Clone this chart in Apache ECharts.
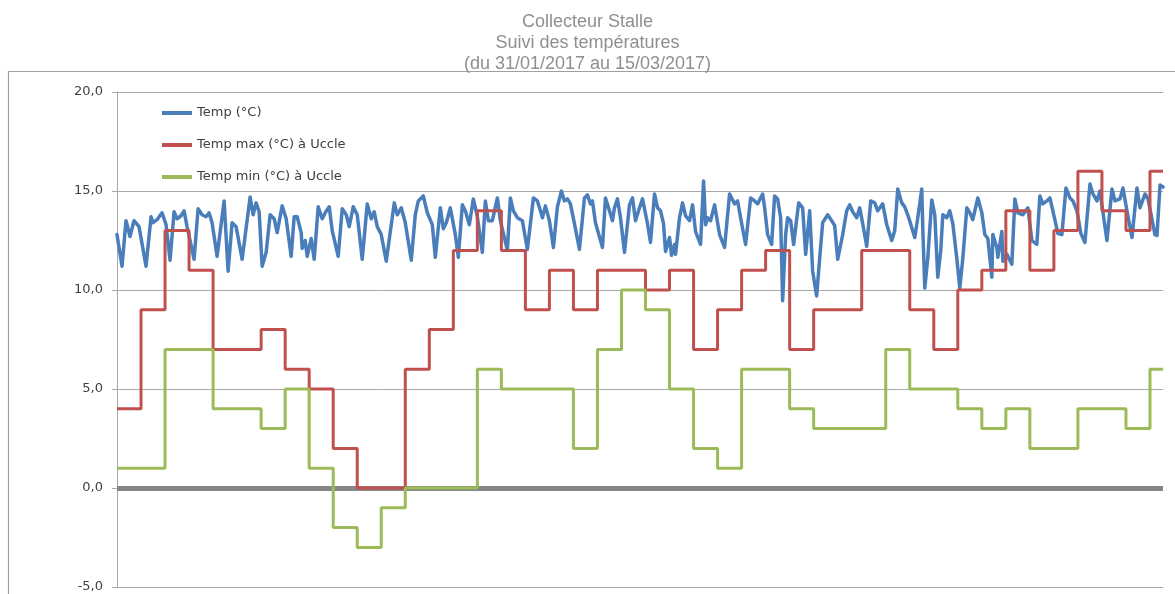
<!DOCTYPE html>
<html><head><meta charset="utf-8">
<script src="https://cdn.jsdelivr.net/npm/echarts@6/dist/echarts.min.js"></script>
<style>html,body{margin:0;padding:0;background:#fff}#c{width:1175px;height:594px}</style>
</head><body><div id="c"></div>
<script>
// ---- data ----
const titleLines = ['Collecteur Stalle', 'Suivi des températures', '(du 31/01/2017 au 15/03/2017)'];
const seriesNames = ['Temp (°C)', 'Temp max (°C) à Uccle', 'Temp min (°C) à Uccle'];
const days = ['31/01','01/02','02/02','03/02','04/02','05/02','06/02','07/02','08/02','09/02','10/02','11/02','12/02','13/02','14/02','15/02','16/02','17/02','18/02','19/02','20/02','21/02','22/02','23/02','24/02','25/02','26/02','27/02','28/02','01/03','02/03','03/03','04/03','05/03','06/03','07/03','08/03','09/03','10/03','11/03','12/03','13/03','14/03','15/03'];
const lastHour = 1045; // hours after 31/01 00:00 of the last reading
const dayMax = [4,9,13,11,7,7,8,6,5,2,0,0,6,8,12,14,12,9,11,9,11,11,10,11,7,9,11,12,7,9,9,12,12,9,7,10,11,14,11,13,16,14,13,16];
const dayMin = [1,1,7,7,4,4,3,5,1,-2,-3,-1,0,0,0,6,5,5,5,2,7,10,9,5,2,1,6,6,4,3,3,3,7,5,5,4,3,4,2,2,4,4,3,6];
const tempHours = [0,5,9,13,17,22,29,34,36,40,45,49,53,57,60,64,67,70,77,81,85,89,92,95,100,107,111,115,119,125,133,136,139,142,145,149,153,157,160,165,169,174,177,180,184,185,188,190,194,197,201,205,208,212,215,221,225,229,232,236,240,245,250,254,257,260,264,269,277,280,284,288,294,298,301,306,310,315,318,323,326,329,333,338,341,345,348,352,356,360,365,368,371,375,380,383,390,393,396,400,405,410,416,420,423,425,428,432,436,440,444,447,450,453,457,462,467,470,473,475,478,485,488,492,495,497,500,503,507,512,515,518,522,525,530,533,537,540,543,546,548,552,554,557,558,562,565,568,572,575,578,583,586,588,590,593,597,602,607,612,617,620,623,628,633,637,640,645,647,650,654,657,660,663,665,668,670,673,676,681,685,688,692,695,699,702,705,710,714,717,720,725,729,732,735,739,742,745,749,753,757,760,765,769,774,777,780,784,787,791,797,800,804,805,807,810,814,817,820,823,825,829,832,835,839,842,845,849,852,855,860,864,867,870,874,875,879,880,884,885,889,894,897,900,905,910,914,919,922,925,929,932,935,940,944,948,952,955,959,963,967,972,975,979,982,989,994,997,1002,1005,1009,1014,1019,1022,1027,1030,1037,1039,1042,1045];
const tempValues = [12.8,11.2,13.5,12.7,13.5,13.2,11.2,13.7,13.4,13.55,13.9,13.3,11.5,13.95,13.6,13.75,14.0,13.2,11.55,14.1,13.8,13.7,13.9,13.4,11.7,14.5,10.95,13.4,13.2,11.55,14.7,13.8,14.4,13.95,11.2,11.9,13.8,13.6,12.9,14.25,13.6,11.7,13.7,13.7,12.9,12.1,12.5,11.7,12.6,11.55,14.2,13.6,13.9,14.2,13.0,11.7,14.1,13.8,13.2,14.2,13.8,11.55,14.35,13.6,13.95,13.2,12.8,11.45,14.4,13.8,14.15,13.4,11.5,13.8,14.5,14.75,13.9,13.3,11.65,14.15,13.1,13.4,14.15,12.8,11.65,14.3,14.0,13.3,14.6,13.7,11.9,14.5,13.5,13.5,14.65,13.5,12.0,14.65,14.0,13.65,13.5,12.05,14.65,14.5,14.0,13.65,14.25,13.5,12.15,14.2,15.0,14.5,14.6,14.35,13.35,12.05,14.65,14.8,14.35,14.5,13.4,12.15,14.65,14.0,13.5,14.15,14.6,13.65,11.9,14.3,14.65,13.5,14.15,14.6,13.35,12.4,14.85,14.15,14.0,13.35,11.95,12.65,11.75,12.3,11.8,13.65,14.4,13.75,13.5,14.3,12.95,12.3,15.5,13.3,13.65,13.5,14.3,12.8,12.15,14.85,14.35,14.5,13.65,12.3,14.65,14.5,14.35,14.85,14.15,12.8,12.3,14.75,14.6,13.65,9.46,12.8,13.65,13.5,12.3,14.4,14.15,11.8,14.0,10.95,9.7,11.6,13.4,13.8,13.5,13.25,11.55,12.8,14.0,14.3,13.95,13.65,14.15,13.35,12.2,14.5,14.4,14.0,14.35,13.3,12.5,13.0,15.1,14.4,14.2,13.65,12.65,13.65,15.1,13.15,10.1,11.6,14.55,13.8,10.65,12.0,13.8,13.65,14.0,13.35,11.6,10.1,11.6,14.15,13.9,13.55,14.65,13.9,12.8,12.6,10.65,12.8,12.15,11.65,12.95,11.45,11.8,11.3,14.6,13.9,13.8,14.15,12.5,12.3,14.75,14.35,14.5,14.65,14.0,12.85,12.8,15.15,14.65,14.5,14.0,12.85,12.4,15.35,14.85,14.5,15.0,12.5,15.1,14.5,14.6,15.15,14.0,12.65,15.15,14.15,14.85,14.6,12.8,12.75,15.3,15.2];
const yTicks = [-5, 0, 5, 10, 15, 20];

// ---- build ----
function stepData(vals) {
  const d = days.map((_, i) => [i * 24, vals[i]]);
  d.push([lastHour, vals[vals.length - 1]]);
  return d;
}
const tempData = tempHours.map((h, i) => [h, tempValues[i]]);

const chart = echarts.init(document.getElementById('c'));
const gridCol = '#a9a9a9';
chart.setOption({
  animation: false,
  backgroundColor: '#fff',
  title: {
    text: titleLines.join('\n'),
    left: 'center', top: 7,
    textStyle: { fontFamily: 'Liberation Sans, Arial, sans-serif', fontSize: 18, fontWeight: 'normal', color: '#8f8f8f', lineHeight: 21 }
  },
  graphic: [{
    type: 'rect', silent: true, z: -1,
    shape: { x: 8.5, y: 71.5, width: 1200, height: 600 },
    style: { fill: 'none', stroke: '#a0a0a0', lineWidth: 1.2 }
  }],
  legend: {
    orient: 'vertical', left: 157, top: 101,
    icon: 'rect', itemWidth: 30, itemHeight: 4, itemGap: 18,
    data: seriesNames,
    textStyle: { fontFamily: 'DejaVu Sans, sans-serif', fontSize: 13, color: '#404040', lineHeight: 14 }
  },
  grid: { left: 117, right: 12, top: 92, bottom: 7 },
  xAxis: {
    type: 'value', min: 0, max: lastHour,
    axisLine: { show: true, onZero: true, lineStyle: { color: '#868686', width: 5, cap: 'butt' } },
    axisTick: { show: false }, axisLabel: { show: false }, splitLine: { show: false }
  },
  yAxis: {
    type: 'value', min: yTicks[0], max: yTicks[yTicks.length - 1], interval: 5,
    axisLine: { show: true, lineStyle: { color: gridCol, width: 1 } },
    axisTick: { show: true, length: 5, lineStyle: { color: gridCol } },
    splitLine: { show: true, lineStyle: { color: gridCol, width: 1 } },
    axisLabel: {
      margin: 14, fontFamily: 'DejaVu Sans, sans-serif', fontSize: 13, color: '#404040',
      formatter: v => v.toFixed(1).replace('.', ',')
    }
  },
  series: [
    { name: seriesNames[0], type: 'line', data: tempData, showSymbol: false, symbol: 'none',
      color: '#4a7ebb', lineStyle: { width: 3.5, color: '#4a7ebb', join: 'round', cap: 'round' }, z: 2 },
    { name: seriesNames[1], type: 'line', data: stepData(dayMax), step: 'end', showSymbol: false, symbol: 'none',
      color: '#c0504d', lineStyle: { width: 3, color: '#c0504d' }, z: 3 },
    { name: seriesNames[2], type: 'line', data: stepData(dayMin), step: 'end', showSymbol: false, symbol: 'none',
      color: '#9bbb59', lineStyle: { width: 3, color: '#9bbb59' }, z: 4 }
  ]
});
</script>
</body></html>
